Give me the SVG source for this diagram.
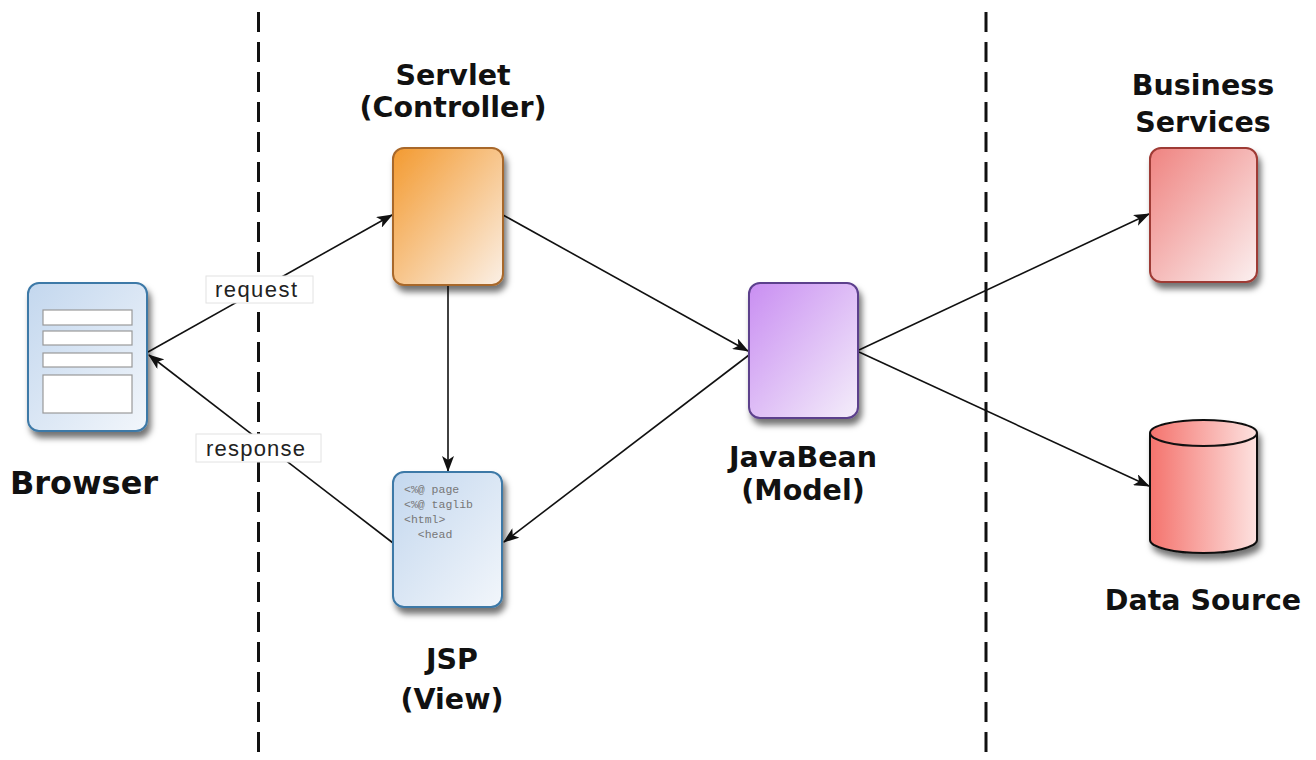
<svg xmlns="http://www.w3.org/2000/svg" width="1316" height="760" viewBox="0 0 1316 760">
<style>
.lbl{font-family:"DejaVu Sans","Liberation Sans",sans-serif;font-weight:bold;font-size:28.5px;fill:#111;text-anchor:middle}
.edge{fill:none;stroke:#111;stroke-width:1.6}
.tag{fill:#fff;stroke:#e2e2e2;stroke-width:1}
.tagt{font-family:"Liberation Sans",Arial,sans-serif;font-size:22px;fill:#222}
.code{font-family:"Liberation Mono","DejaVu Sans Mono",monospace;font-size:11.5px;fill:#777}
.sep{stroke:#111;stroke-width:3;stroke-dasharray:20 10}
.row{fill:#fff;stroke:#999;stroke-width:1.2}
</style>
<defs>
<linearGradient id="gBlue" x1="0" y1="0" x2="1" y2="1"><stop offset="0" stop-color="#c3d7ee"/><stop offset="1" stop-color="#f2f6fb"/></linearGradient>
<linearGradient id="gOrange" x1="0" y1="0" x2="1" y2="1"><stop offset="0" stop-color="#f39a30"/><stop offset="1" stop-color="#fbf0e6"/></linearGradient>
<linearGradient id="gPurple" x1="0" y1="0" x2="1" y2="1"><stop offset="0" stop-color="#c98ef2"/><stop offset="1" stop-color="#f4eefa"/></linearGradient>
<linearGradient id="gPink" x1="0" y1="0" x2="1" y2="1"><stop offset="0" stop-color="#ef8380"/><stop offset="1" stop-color="#fbf0f0"/></linearGradient>
<linearGradient id="gCyl" x1="0" y1="0" x2="1" y2="0"><stop offset="0" stop-color="#f4736d"/><stop offset="1" stop-color="#fde2e0"/></linearGradient>
<filter id="sh" x="-20%" y="-20%" width="150%" height="150%"><feDropShadow dx="3" dy="6" stdDeviation="3" flood-color="#000" flood-opacity="0.55"/></filter>
<marker id="ah" viewBox="0 0 16 12" refX="15" refY="6" markerWidth="16" markerHeight="12" markerUnits="userSpaceOnUse" orient="auto"><path d="M0,0 L16,6 L0,12 L4,6 Z" fill="#111"/></marker>
</defs>
<rect width="1316" height="760" fill="#fff"/>
<g id="separators">
<line class="sep" x1="258.5" y1="12" x2="258.5" y2="760"/>
<line class="sep" x1="986" y1="12" x2="986" y2="760"/>
</g>
<g id="connectors">
<line class="edge" x1="148" y1="352" x2="392" y2="215" marker-end="url(#ah)"/>
<line class="edge" x1="393" y1="543" x2="149" y2="355" marker-end="url(#ah)"/>
<line class="edge" x1="448" y1="286" x2="448" y2="471" marker-end="url(#ah)"/>
<line class="edge" x1="503" y1="215" x2="748" y2="351" marker-end="url(#ah)"/>
<line class="edge" x1="749" y1="355" x2="504" y2="542" marker-end="url(#ah)"/>
<line class="edge" x1="859" y1="350" x2="1149" y2="214" marker-end="url(#ah)"/>
<line class="edge" x1="859" y1="352" x2="1149" y2="486" marker-end="url(#ah)"/>
<rect class="tag" x="206" y="276" width="107" height="27"/>
<text class="tagt" x="215" y="297" textLength="82">request</text>
<rect class="tag" x="196" y="434" width="125" height="28"/>
<text class="tagt" x="206" y="456" textLength="99">response</text>
</g>
<g id="browser">
<rect x="28" y="283" width="119" height="148" rx="11" fill="url(#gBlue)" stroke="#3d79a7" stroke-width="2" filter="url(#sh)"/>
<rect class="row" x="43" y="310" width="89" height="15"/>
<rect class="row" x="43" y="331" width="89" height="14"/>
<rect class="row" x="43" y="353" width="89" height="14"/>
<rect class="row" x="43" y="375" width="89" height="38"/>
<text class="lbl" x="84" y="494" style="font-size:32px">Browser</text>
</g>
<g id="servlet">
<rect x="393" y="148" width="110" height="137" rx="11" fill="url(#gOrange)" stroke="#a8672a" stroke-width="2" filter="url(#sh)"/>
<text class="lbl" x="453" y="85">Servlet</text>
<text class="lbl" x="453" y="117">(Controller)</text>
</g>
<g id="jsp">
<rect x="393" y="472" width="109" height="135" rx="11" fill="url(#gBlue)" stroke="#3d79a7" stroke-width="2" filter="url(#sh)"/>
<text class="code" x="404" y="493">&lt;%@ page</text>
<text class="code" x="404" y="508">&lt;%@ taglib</text>
<text class="code" x="404" y="523">&lt;html&gt;</text>
<text class="code" x="404" y="538" xml:space="preserve">  &lt;head</text>
<text class="lbl" x="452" y="669">JSP</text>
<text class="lbl" x="452" y="709">(View)</text>
</g>
<g id="javabean">
<rect x="749" y="283" width="109" height="135" rx="11" fill="url(#gPurple)" stroke="#5b3f8c" stroke-width="2" filter="url(#sh)"/>
<text class="lbl" x="803" y="467">JavaBean</text>
<text class="lbl" x="803" y="500">(Model)</text>
</g>
<g id="business">
<rect x="1150" y="148" width="107" height="134" rx="11" fill="url(#gPink)" stroke="#9e3b34" stroke-width="2" filter="url(#sh)"/>
<text class="lbl" x="1203" y="95">Business</text>
<text class="lbl" x="1203" y="132">Services</text>
</g>
<g id="datasource">
<path d="M1150,433 L1150,540 A53.5,13 0 0 0 1257,540 L1257,433 A53.5,13 0 0 0 1150,433 Z" fill="url(#gCyl)" stroke="#111" stroke-width="2" filter="url(#sh)"/>
<path d="M1150,433 A53.5,13 0 0 0 1257,433" fill="none" stroke="#111" stroke-width="2"/>
<text class="lbl" x="1203" y="610">Data Source</text>
</g>
</svg>
